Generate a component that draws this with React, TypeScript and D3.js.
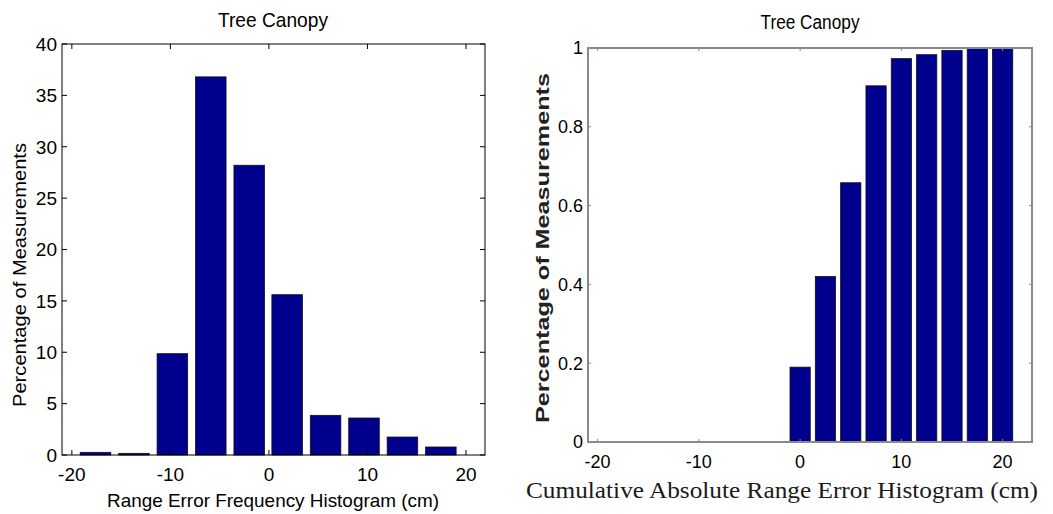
import { useEffect, useRef } from 'react'
import * as d3 from 'd3'

// left: range error histogram (10 bins)
const errCenters = [-17.6, -13.7, -9.8, -5.9, -2.0, 1.85, 5.75, 9.65, 13.55, 17.45]
const errPercent = [0.26, 0.16, 9.86, 36.8, 28.2, 15.6, 3.86, 3.6, 1.75, 0.78]
const errYTicks = [0, 5, 10, 15, 20, 25, 30, 35, 40]

// right: cumulative absolute error
const absCenters = [0, 2.5, 5, 7.5, 10, 12.5, 15, 17.5, 20]
const absCumulative = [0.19, 0.42, 0.658, 0.904, 0.973, 0.983, 0.994, 1.0, 1.0]
const absYTicks = [0, 0.2, 0.4, 0.6, 0.8, 1]

const xTicks = [-20, -10, 0, 10, 20]

const sans = '"Liberation Sans", Arial, Helvetica, sans-serif'
const serif = '"Liberation Serif", "Times New Roman", serif'

interface Panel {
  box: { left: number; right: number; top: number; bottom: number }
  xDomain: [number, number]
  yDomain: [number, number]
  centers: number[]
  values: number[]
  barWidth: number
  yTicks: number[]
  axisColor: string
  axisWidth: number
  tickLen: number
  tickFont: number
}

function drawPanel(svg: d3.Selection<SVGSVGElement, unknown, null, undefined>, p: Panel) {
  const { box } = p
  const x = d3.scaleLinear().domain(p.xDomain).range([box.left, box.right])
  const y = d3.scaleLinear().domain(p.yDomain).range([box.bottom, box.top])
  const g = svg.append('g')

  g.append('rect')
    .attr('x', box.left).attr('y', box.top)
    .attr('width', box.right - box.left).attr('height', box.bottom - box.top)
    .attr('fill', '#fff')

  p.centers.forEach((c, i) => {
    const x0 = x(c - p.barWidth / 2)
    const x1 = x(c + p.barWidth / 2)
    const yTop = y(p.values[i])
    g.append('rect')
      .attr('x', x0).attr('y', yTop)
      .attr('width', x1 - x0).attr('height', Math.max(0.5, y(0) - yTop))
      .attr('fill', '#00008f')
      .attr('stroke', '#111').attr('stroke-width', 0.8)
  })

  // inward ticks on all four sides, matlab style
  xTicks.forEach(t => {
    g.append('line')
      .attr('x1', x(t)).attr('x2', x(t))
      .attr('y1', box.bottom).attr('y2', box.bottom - p.tickLen)
      .attr('stroke', p.axisColor).attr('stroke-width', 1)
    g.append('line')
      .attr('x1', x(t)).attr('x2', x(t))
      .attr('y1', box.top).attr('y2', box.top + p.tickLen)
      .attr('stroke', p.axisColor).attr('stroke-width', 1)
    g.append('text')
      .attr('x', x(t)).attr('y', box.bottom + 26)
      .attr('text-anchor', 'middle')
      .style('font-family', sans).style('font-size', `${p.tickFont}px`)
      .attr('fill', '#000')
      .text(String(t))
  })

  p.yTicks.forEach(t => {
    g.append('line')
      .attr('x1', box.left).attr('x2', box.left + p.tickLen)
      .attr('y1', y(t)).attr('y2', y(t))
      .attr('stroke', p.axisColor).attr('stroke-width', 1)
    g.append('line')
      .attr('x1', box.right).attr('x2', box.right - p.tickLen)
      .attr('y1', y(t)).attr('y2', y(t))
      .attr('stroke', p.axisColor).attr('stroke-width', 1)
    g.append('text')
      .attr('x', box.left - 5).attr('y', y(t) + p.tickFont * 0.36)
      .attr('text-anchor', 'end')
      .style('font-family', sans).style('font-size', `${p.tickFont}px`)
      .attr('fill', '#000')
      .text(String(t))
  })

  g.append('rect')
    .attr('x', box.left).attr('y', box.top)
    .attr('width', box.right - box.left).attr('height', box.bottom - box.top)
    .attr('fill', 'none')
    .attr('stroke', p.axisColor).attr('stroke-width', p.axisWidth)
}

export default function App() {
  const svgRef = useRef<SVGSVGElement>(null)

  useEffect(() => {
    if (!svgRef.current) return
    const svg = d3.select(svgRef.current)
    svg.selectAll('*').remove()

    drawPanel(svg, {
      box: { left: 62, right: 485, top: 44, bottom: 455 },
      xDomain: [-21, 21.93],
      yDomain: [0, 40],
      centers: errCenters,
      values: errPercent,
      barWidth: 3.1,
      yTicks: errYTicks,
      axisColor: '#000',
      axisWidth: 1,
      tickLen: 5,
      tickFont: 19,
    })

    drawPanel(svg, {
      box: { left: 588, right: 1032, top: 48, bottom: 442 },
      xDomain: [-20.95, 22.9],
      yDomain: [0, 1],
      centers: absCenters,
      values: absCumulative,
      barWidth: 2.0,
      yTicks: absYTicks,
      axisColor: '#8a8a8a',
      axisWidth: 2,
      tickLen: 3,
      tickFont: 18,
    })

    // titles and axis labels
    const label = (x: number, y: number, txt: string, size: number, len: number, opts: { rotate?: boolean; font?: string; weight?: string; fill?: string } = {}) => {
      const t = svg.append('text')
        .attr('text-anchor', 'middle')
        .attr('transform', `translate(${x},${y})${opts.rotate ? ' rotate(-90)' : ''}`)
        .attr('textLength', len).attr('lengthAdjust', 'spacingAndGlyphs')
        .style('font-family', opts.font || sans)
        .style('font-size', `${size}px`)
        .style('font-weight', opts.weight || 'normal')
        .attr('fill', opts.fill || '#000')
        .text(txt)
      return t
    }

    label(273, 27, 'Tree Canopy', 21, 110)
    label(810, 29, 'Tree Canopy', 20, 99)
    label(273, 507, 'Range Error Frequency Histogram (cm)', 19, 332)
    label(26, 275, 'Percentage of Measurements', 19, 264, { rotate: true })
    label(549, 248, 'Percentage of Measurements', 19, 350, { rotate: true, weight: 'bold', fill: '#222' })
    label(782, 498, 'Cumulative Absolute Range Error Histogram (cm)', 23, 512, { font: serif, fill: '#1a1a1a' })
  }, [])

  return (
    <svg
      ref={svgRef}
      width={1053}
      height={514}
      style={{ position: 'absolute', left: 0, top: 0, background: '#fff' }}
    />
  )
}
